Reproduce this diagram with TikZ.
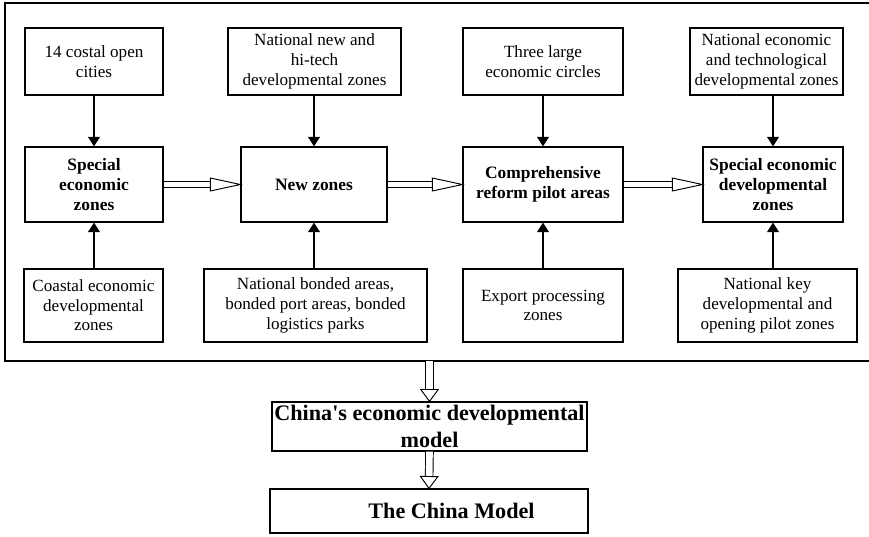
\documentclass[tikz,border=0pt]{standalone}
\usepackage{fontspec}
\setmainfont{Liberation Serif}
\usetikzlibrary{arrows.meta, decorations.markings}

\begin{document}
\begin{tikzpicture}[
  x=0.0222cm, y=-0.0222cm,
  zone/.style={draw, line width=0.8pt, align=center, inner sep=1pt, font=\fontsize{10.8}{12.4}\selectfont},
  stage/.style={zone, font=\fontsize{11}{12.8}\selectfont\bfseries, minimum height=1.665cm},
  model/.style={draw, line width=0.8pt, align=center, inner sep=0pt, font=\fontsize{14}{16.6}\selectfont\bfseries},
  feed/.style={line width=0.7pt, -{Triangle[length=6pt, width=7.5pt]}},
  hollow/.style n args={4}{double, double distance=#1, line width=0.6pt, shorten >=#4,
    postaction={decorate, decoration={markings, mark=at position 1 with {
      \draw[line width=0.6pt, fill=white, shorten >=0pt] (0,0) -- (-#2,#3/2) -- (-#2,-#3/2) -- cycle;}}}},
]
  \useasboundingbox (0,0) rectangle (869,536);

  % Outer frame
  \draw[line width=0.8pt] (5,3) rectangle (880,361);
  \coordinate (framebot) at (429.5,361);

  % Upper sources
  \node[zone, minimum width=3.064cm, minimum height=1.487cm] (open14) at (94,61.5) {14 costal open\\cities};
  \node[zone, minimum width=3.841cm, minimum height=1.487cm] (hitech) at (314.5,61.5) {National new and\\hi-tech\\developmental zones};
  \node[zone, minimum width=3.552cm, minimum height=1.487cm] (circles) at (543,61.5) {Three large\\economic circles};
  \node[zone, minimum width=3.397cm, minimum height=1.487cm] (ettech) at (766.5,61.5) {National economic\\and technological\\developmental zones};

  % Stages
  \node[stage, minimum width=3.064cm] (sez) at (94,184.5) {Special\\economic\\zones};
  \node[stage, minimum width=3.241cm] (newz) at (314,184.5) {New zones};
  \node[stage, minimum width=3.552cm] (reform) at (543,184.5) {Comprehensive\\reform pilot areas};
  \node[stage, minimum width=3.108cm] (sedz) at (773,184.5) {Special economic\\developmental\\zones};

  % Lower sources
  \node[zone, minimum width=3.086cm, minimum height=1.621cm] (coastal) at (93.5,305.5) {Coastal economic\\developmental\\zones};
  \node[zone, minimum width=4.951cm, minimum height=1.621cm] (bonded) at (315.5,305.5) {National bonded areas,\\bonded port areas, bonded\\logistics parks};
  \node[zone, minimum width=3.552cm, minimum height=1.621cm] (export) at (543,305.5) {Export processing\\zones};
  \node[zone, minimum width=3.974cm, minimum height=1.621cm] (keypilot) at (767.5,305.5) {National key\\developmental and\\opening pilot zones};

  % Models
  \node[model, minimum width=6.993cm, minimum height=1.088cm] (cedm) at (429.5,426.5) {China{\textquotesingle}s economic developmental\\model};
  \node[model, minimum width=7.060cm, minimum height=0.977cm] (cmodel) at (429,511) {\hspace*{1cm}The China Model};

  % Feeding arrows
  \draw[feed] (sez.north |- open14.south) -- (sez.north);
  \draw[feed] (newz.north |- hitech.south) -- (newz.north);
  \draw[feed] (reform.north |- circles.south) -- (reform.north);
  \draw[feed] (sedz.north |- ettech.south) -- (sedz.north);
  \draw[feed] (sez.south |- coastal.north) -- (sez.south);
  \draw[feed] (newz.south |- bonded.north) -- (newz.south);
  \draw[feed] (reform.south |- export.north) -- (reform.south);
  \draw[feed] (sedz.south |- keypilot.north) -- (sedz.south);

  % Stage sequence
  \draw[hollow={3.2pt}{19pt}{8.2pt}{12pt}] (sez.east) -- (newz.west);
  \draw[hollow={3.2pt}{19pt}{8.2pt}{12pt}] (newz.east) -- (reform.west);
  \draw[hollow={3.2pt}{19pt}{8.2pt}{12pt}] (reform.east) -- (sedz.west);

  % Down to the models
  \draw[hollow={4.2pt}{7.5pt}{11pt}{5pt}] (framebot) -- (cedm.north);
  \draw[hollow={4.2pt}{7.5pt}{11pt}{5pt}] (cedm.south) -- (cmodel.north);
\end{tikzpicture}
\end{document}
